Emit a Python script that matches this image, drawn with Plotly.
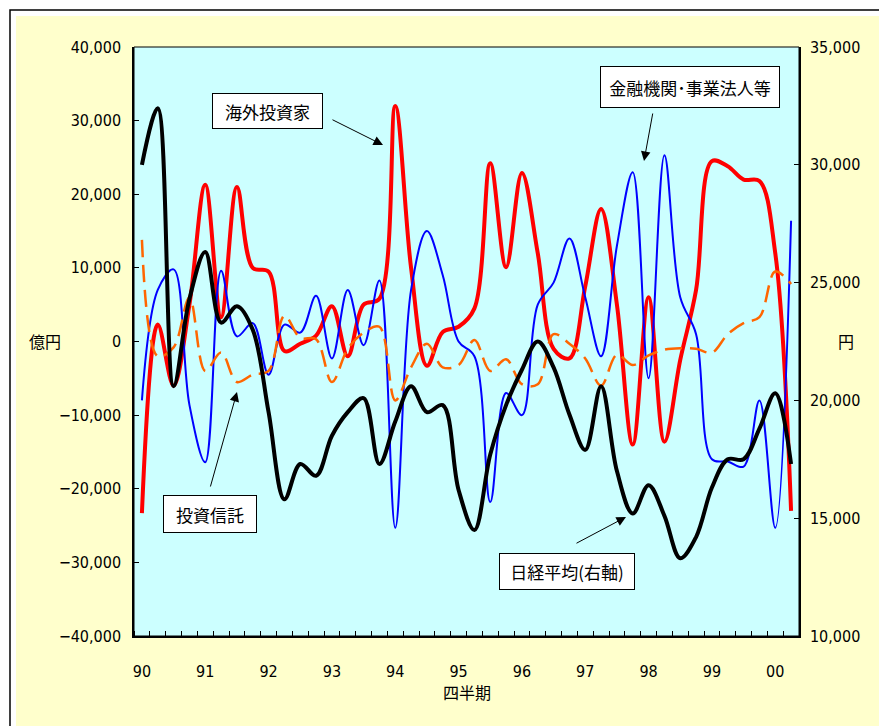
import plotly.graph_objects as go

# ---- data (quarterly, 1990Q1 .. 2000Q2) ----
quarters = [f"{y:02d}Q{q}" for y in list(range(90, 100)) + [0] for q in range(1, 5)][:42]
year_labels = ["90", "91", "92", "93", "94", "95", "96", "97", "98", "99", "00"]

foreign = [-23300, 2300, -6000, 5000, 21300, 3300, 21000, 10000, 9500, -1300,
           -300, 800, 4800, -2000, 5000, 5800, 32000, 10000, -3300, 1300,
           2000, 4500, 24200, 10100, 22900, 12000, -1000, -2300, 7500, 18000,
           5000, -14000, 6000, -13600, -2500, 7000, 24500, 23800, 22000, 21800,
           12000, -23000]
financial = [-8000, 7000, 9800, -8600, -16400, 9600, 700, 2500, -4500, 2300,
             1200, 6200, -2300, 7000, -500, 8300, -25300, 7000, 15000, 9000,
             0, -2000, -21800, -7000, -10000, 5000, 8000, 14000, 6000, -2000,
             13000, 23000, -5000, 25300, 6000, 1000, -16000, -16300, -17000, -8000,
             -25300, 16400]
trusts = [13800, -2000, -800, 6000, -4000, -1500, -5500, -4500, -4000, 3500,
          500, 300, -5500, -1000, 1200, 2000, -8000, -3500, -300, -3500,
          -3200, 200, -4000, -2400, -5800, -5800, 1000, -300, -2300, -6000,
          -1800, -3200, -1900, -1100, -900, -1000, -1500, 1000, 2500, 3300,
          9500, 7800]
nikkei = [30000, 32400, 20600, 24300, 26300, 23300, 24000, 23000, 19500, 15800,
          17300, 16800, 18500, 19500, 20100, 17300, 19100, 20600, 19500, 19800,
          16200, 14500, 17700, 19800, 21300, 22500, 21400, 19400, 17900, 20600,
          17000, 15200, 16400, 15100, 13300, 14200, 16300, 17500, 17500, 18800,
          20300, 17300]

x = list(range(len(quarters)))

# ---- layout helpers (reference pixel -> paper) ----
OFF = 8                      # page body margin
L, R, T, B = 134, 799, 47, 636
W, H = 887 - OFF, 726 - OFF
def px(v):
    return (v - L) / (R - L)
def py(v):
    return (B - v) / (B - T)

tickfont = dict(family="Liberation Sans Narrow, DejaVu Sans Condensed, sans-serif", size=16, color="black")
jp = "Noto Sans CJK JP, sans-serif"

fig = go.Figure()
fig.add_trace(go.Scatter(x=x, y=foreign, mode="lines", name="海外投資家",
                         line=dict(color="#FF0000", width=4, shape="spline", smoothing=1)))
fig.add_trace(go.Scatter(x=x, y=financial, mode="lines", name="金融機関･事業法人等",
                         line=dict(color="#0000FF", width=2, shape="spline", smoothing=1)))
fig.add_trace(go.Scatter(x=x, y=trusts, mode="lines", name="投資信託",
                         line=dict(color="#FF6600", width=2.5, shape="spline", smoothing=1, dash="17px,8px")))
fig.add_trace(go.Scatter(x=x, y=nikkei, mode="lines", name="日経平均(右軸)", yaxis="y2",
                         line=dict(color="#000000", width=4, shape="spline", smoothing=1)))

shapes = [
    dict(type="rect", xref="paper", yref="paper", layer="below",
         x0=px(10), x1=px(905), y0=py(745), y1=py(10),
         line=dict(color="black", width=1.5), fillcolor="white"),
    dict(type="rect", xref="paper", yref="paper", layer="below",
         x0=px(16), x1=px(905), y0=py(745), y1=py(16),
         line=dict(width=0), fillcolor="#FFFFCC"),
    dict(type="rect", xref="paper", yref="paper", layer="below",
         x0=0, x1=1, y0=0, y1=1,
         line=dict(color="black", width=1), fillcolor="#CCFFFF"),
]

annotations = []
# text boxes: (text, x0, y0, x1, y1) in reference pixels
boxes = [
    ("海外投資家", 212, 93, 323, 129),
    ("金融機関･事業法人等", 600, 66, 780, 108),
    ("投資信託", 163, 495, 257, 533),
    ("日経平均(右軸)", 499, 553, 635, 590),
]
for t, x0, y0, x1, y1 in boxes:
    annotations.append(dict(
        text=t, xref="paper", yref="paper",
        x=px((x0 + x1) / 2), y=py((y0 + y1) / 2), xanchor="center", yanchor="middle",
        showarrow=False, width=x1 - x0 - 4, height=y1 - y0 - 4, borderpad=1,
        bgcolor="white", bordercolor="black", borderwidth=1,
        font=dict(family=jp, size=17, color="black")))
# arrows: tail -> tip
arrows = [
    ((331, 119), (383, 145)),
    ((653, 112), (644, 161)),
    ((210, 488), (237, 392)),
    ((575, 544), (626, 517)),
]
for (tx, ty), (hx, hy) in arrows:
    annotations.append(dict(
        text="", xref="paper", yref="paper", x=px(hx), y=py(hy),
        ax=tx - hx, ay=ty - hy, showarrow=True, arrowhead=2, arrowsize=1.9,
        arrowwidth=1, arrowcolor="black", standoff=0, startstandoff=0))
# axis titles
annotations += [
    dict(text="億円", xref="paper", yref="paper", x=px(45), y=py(341), showarrow=False,
         xanchor="center", yanchor="middle", font=dict(family=jp, size=16, color="black")),
    dict(text="円", xref="paper", yref="paper", x=px(846), y=py(341), showarrow=False,
         xanchor="center", yanchor="middle", font=dict(family=jp, size=16, color="black")),
    dict(text="四半期", xref="paper", yref="paper", x=px(467), y=py(692), showarrow=False,
         xanchor="center", yanchor="middle", font=dict(family=jp, size=16, color="black")),
]

fig.update_layout(
    width=W, height=H,
    margin=dict(l=L - OFF, r=W - (R - OFF), t=T - OFF, b=H - (B - OFF), autoexpand=False),
    paper_bgcolor="white", plot_bgcolor="rgba(0,0,0,0)",
    showlegend=False,
    shapes=shapes, annotations=annotations,
    xaxis=dict(range=[-0.5, len(x) - 0.5], tickmode="array",
               tickvals=list(range(0, len(x), 4)), ticktext=year_labels,
               ticks="", showgrid=False, zeroline=False,
               showline=True, linecolor="black", linewidth=1.5,
               tickfont=tickfont, ticklabelstandoff=20,
               minor=dict(tickmode="linear", tick0=-0.5, dtick=1, ticks="inside",
                          ticklen=5, tickcolor="black", tickwidth=1, showgrid=False)),
    yaxis=dict(range=[-40000, 40000], dtick=10000, tickformat=",d",
               ticks="inside", ticklen=5, tickcolor="black", showgrid=False, zeroline=False,
               showline=True, linecolor="black", linewidth=1.5,
               tickfont=tickfont, ticklabelstandoff=8),
    yaxis2=dict(range=[10000, 35000], dtick=5000, tickformat=",d", overlaying="y", side="right",
                ticks="inside", ticklen=5, tickcolor="black", showgrid=False, zeroline=False,
                showline=True, linecolor="black", linewidth=1.5,
                tickfont=tickfont, ticklabelstandoff=6),
)

fig.write_html("out.html")
